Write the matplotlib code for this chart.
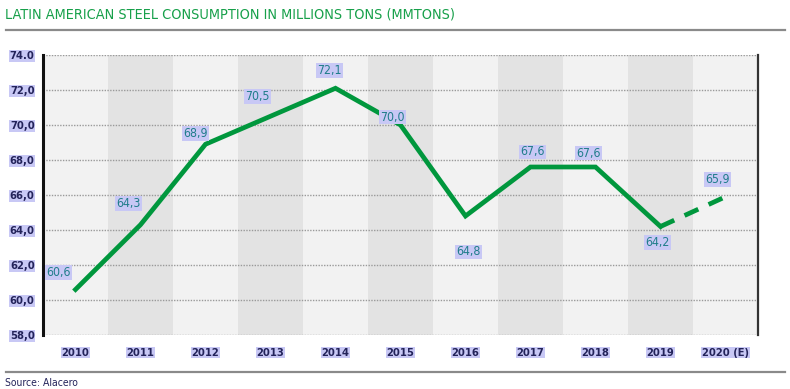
import numpy as np
import matplotlib
matplotlib.use("Agg")
import matplotlib.pyplot as plt
from matplotlib.lines import Line2D

years = ["2010", "2011", "2012", "2013", "2014", "2015", "2016", "2017", "2018", "2019", "2020 (E)"]
consumption = [60.6, 64.3, 68.9, 70.5, 72.1, 70.0, 64.8, 67.6, 67.6, 64.2, 65.9]
value_labels = ["60,6", "64,3", "68,9", "70,5", "72,1", "70,0", "64,8", "67,6", "67,6", "64,2", "65,9"]
y_ticks = [58, 60, 62, 64, 66, 68, 70, 72, 74]
y_tick_labels = ["58,0", "60,0", "62,0", "64,0", "66,0", "68,0", "70,0", "72,0", "74.0"]

# label offsets in pixels (dx, dy) relative to each point
label_offsets = [(-17, 17), (-12, 21), (-10, 11), (-13, 20), (-6, 18), (-8, 8),
                 (3, -36), (2, 15), (-7, 14), (-3, -16), (-8, 17)]

FONT = ["DejaVu Sans"]
STRETCH = "condensed"
GREEN = "#00973d"
NAVY = "#23235a"
TEAL = "#1f7d8a"
HILITE = "#c8c8f5"

fig = plt.figure(figsize=(7.9, 3.89), dpi=100)
ax = fig.add_axes([43 / 790, 54 / 389, 715 / 790, 280 / 389])

x = np.arange(len(years))
for i in x:
    ax.axvspan(i - 0.5, i + 0.5, color="#e3e3e3" if i % 2 else "#f2f2f2", lw=0, zorder=0)
for t in y_ticks:
    ax.axhline(t, color="#9a9a9a", lw=1, ls=(0, (1, 1)), zorder=1)

ax.plot(x[:-1], consumption[:-1], color=GREEN, lw=3.4, solid_joinstyle="miter", zorder=3)
ax.plot(x[-2:], consumption[-2:], color=GREEN, lw=3.4, ls=(0, (3.2, 2.4)), zorder=3)

for i, (lab, off) in enumerate(zip(value_labels, label_offsets)):
    ax.annotate(lab, (x[i], consumption[i]), xytext=off, textcoords="offset pixels",
                ha="center", va="center", fontsize=8.8, color=TEAL, family=FONT,
                fontstretch=STRETCH,
                bbox=dict(facecolor=HILITE, edgecolor="none", pad=0.6), zorder=4)

ax.set_xlim(-0.5, len(years) - 0.5)
ax.set_ylim(58, 74)
ax.set_xticks(x)
ax.set_xticklabels(years)
ax.set_yticks(y_ticks)
ax.set_yticklabels(y_tick_labels)
ax.tick_params(length=0, pad=6)
for lab in ax.get_xticklabels() + ax.get_yticklabels():
    lab.set_family(FONT)
    lab.set_fontstretch(STRETCH)
    lab.set_fontsize(8)
    lab.set_fontweight("bold")
    lab.set_color(NAVY)
    lab.set_bbox(dict(facecolor=HILITE, edgecolor="none", pad=0.5))
ax.tick_params(axis="x", pad=9)

ax.spines["top"].set_visible(False)
ax.spines["bottom"].set_visible(False)
ax.spines["left"].set_linewidth(2.2)
ax.spines["left"].set_color("#111111")
ax.spines["right"].set_linewidth(1.6)
ax.spines["right"].set_color("#333333")

fig.text(5 / 790, 1 - 15 / 389, "LATIN AMERICAN STEEL CONSUMPTION IN MILLIONS TONS (MMTONS)",
         color="#17a04a", fontsize=10.4, family=FONT, fontstretch=STRETCH,
         va="center", ha="left")
fig.add_artist(Line2D([6 / 790, 785 / 790], [1 - 30 / 389] * 2, color="#8a8a8a", lw=1.6))
fig.add_artist(Line2D([6 / 790, 785 / 790], [1 - 372 / 389] * 2, color="#8a8a8a", lw=1.6))
fig.text(5 / 790, 1 - 383 / 389, "Source: Alacero", color=NAVY, fontsize=7.5,
         family=FONT, fontstretch=STRETCH, va="center", ha="left")

fig.savefig("out.png", dpi=100)
